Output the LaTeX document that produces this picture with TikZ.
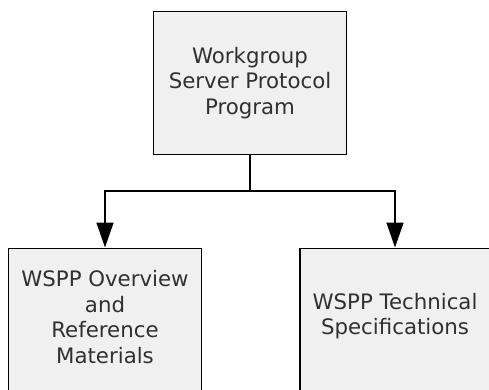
\documentclass[tikz,border=0pt]{standalone}
\usepackage{fontspec}
\setmainfont{DejaVu Sans}
\usetikzlibrary{arrows.meta}
\definecolor{boxfill}{HTML}{F0F0F0}
\definecolor{boxtext}{HTML}{303030}
\tikzset{
  box/.style = {draw, line width = 1.6pt, fill = boxfill, minimum width = 193pt, inner sep = 0pt},
  boxtxt/.style = {align = center, text = boxtext, font = \fontsize{21.3}{25.5}\selectfont},
  conn/.style = {line width = 1.6pt, -{Triangle[width = 17pt, length = 25pt]}}
}
\begin{document}
\begin{tikzpicture}[x = 1pt, y = -1pt]
      \useasboundingbox (0,0) rectangle (489,389);
      \node [box, minimum height = 143pt] (wspp) at (250,83) {};
      \node [boxtxt] (wspptxt) at (250,83) {Workgroup\\Server Protocol\\Program};
      \node [box, minimum height = 170pt, anchor = north] (ovw) at (105,247.5) {};
      \node [boxtxt] (ovwtxt) at (105,317) {WSPP Overview\\and\\Reference\\Materials};
      % right box runs off the page edge
      \node [box, minimum height = 170pt, minimum width = 210pt, anchor = north west] (spec) at (299,247.5) {};
      \node [boxtxt] (spectxt) at (395,316) {WSPP Technical\\Specifications};
      \coordinate (split) at (250,191);
      \draw [line width = 1.6pt] (wspp.south) -- (split);
      \draw [conn] (split) -| (ovw.north);
      \draw [conn] (split) -| (spectxt |- spec.north);
    \end{tikzpicture}
\end{document}
